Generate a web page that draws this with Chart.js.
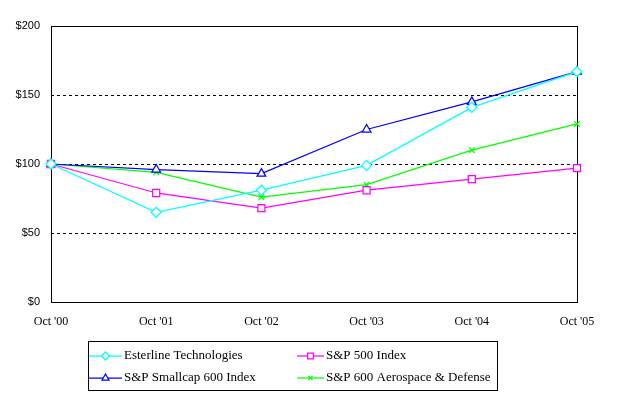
<!DOCTYPE html>
<html>
<head>
<meta charset="utf-8">
<script src="https://cdn.jsdelivr.net/npm/chart.js@4/dist/chart.umd.min.js"></script>
<style>
    html, body { margin: 0; padding: 0; background: #fff; }
    #chart { display: block; }
</style>
</head>
<body>
<canvas id="chart" width="619" height="398"></canvas>
<script>
const periods = ["Oct '00", "Oct '01", "Oct '02", "Oct '03", "Oct '04", "Oct '05"];
const esterline = [100, 65, 81, 99, 141, 167];
const sp500 = [100, 79, 68, 81, 89, 97];
const smallcap600 = [100, 96, 93, 125, 145, 167];
const aerospace600 = [100, 94, 76, 85, 110, 129];
const yTicks = [0, 50, 100, 150, 200];

const seriesNames = ['Esterline Technologies', 'S&P 500 Index', 'S&P Smallcap 600 Index', 'S&P 600 Aerospace & Defense'];

// frame round the plot area + boxed legend under it
const framePlugin = {
    id: 'frame',
    beforeDatasetsDraw(chart) {
        const { ctx, chartArea: a } = chart;
        ctx.save();
        ctx.strokeStyle = '#000';
        ctx.lineWidth = 1;
        ctx.strokeRect(Math.round(a.left) + 0.5, Math.round(a.top) + 0.5,
            Math.round(a.right - a.left), Math.round(a.bottom - a.top));
        ctx.restore();
    },
    afterDraw(chart) {
        const ctx = chart.ctx;
        ctx.save();
        ctx.strokeStyle = '#000';
        ctx.lineWidth = 1;
        ctx.strokeRect(88.5, 341.5, 409, 49);
        // legend order: Esterline, S&P 500 / Smallcap, Aerospace
        const slots = [
            { ds: 0, x0: 89, x1: 122, y: 356 },
            { ds: 1, x0: 297, x1: 324, y: 356 },
            { ds: 2, x0: 89, x1: 122, y: 378 },
            { ds: 3, x0: 297, x1: 324, y: 378 }
        ];
        slots.forEach(s => {
            const d = chart.data.datasets[s.ds];
            ctx.strokeStyle = d.borderColor;
            ctx.lineWidth = 1.25;
            ctx.beginPath();
            ctx.moveTo(s.x0, s.y);
            ctx.lineTo(s.x1, s.y);
            ctx.stroke();
            ctx.fillStyle = '#fff';
            Chart.helpers.drawPoint(ctx, {
                pointStyle: d.pointStyle,
                radius: d.pointRadius - 1,
                borderWidth: d.pointBorderWidth,
                rotation: 0
            }, (s.x0 + s.x1) / 2, s.y);
            ctx.fillStyle = '#000';
            ctx.font = '13px "Liberation Serif", "Times New Roman", serif';
            ctx.textBaseline = 'middle';
            ctx.textAlign = 'left';
            ctx.fillText(d.label, s.x1 + 2, s.y);
        });
        ctx.restore();
    }
};

const mkSeries = (label, data, color, style, radius) => ({
    label: label,
    data: data,
    borderColor: color,
    backgroundColor: '#fff',
    pointBorderColor: color,
    pointBackgroundColor: '#fff',
    borderWidth: 1.25,
    pointBorderWidth: 1.25,
    pointStyle: style,
    pointRadius: radius,
    tension: 0,
    clip: false
});

new Chart(document.getElementById('chart'), {
    type: 'line',
    data: {
        labels: periods,
        datasets: [
            mkSeries(seriesNames[0], esterline, '#00ffff', 'rectRot', 5),
            mkSeries(seriesNames[1], sp500, '#ff00ff', 'rect', 5),
            mkSeries(seriesNames[2], smallcap600, '#0000ff', 'triangle', 5),
            mkSeries(seriesNames[3], aerospace600, '#00ff00', 'crossRot', 4)
        ]
    },
    options: {
        responsive: false,
        animation: false,
        events: [],
        layout: { padding: { left: 0, top: 26, right: 42, bottom: 0 } },
        plugins: {
            legend: { display: false },
            tooltip: { enabled: false }
        },
        scales: {
            x: {
                offset: false,
                grid: { display: false, drawTicks: false },
                border: { display: false },
                ticks: {
                    color: '#000',
                    padding: 13,
                    maxRotation: 0,
                    font: { family: '"Liberation Serif", "Times New Roman", serif', size: 12 }
                },
                afterFit: s => { s.height = 96; }
            },
            y: {
                min: 0,
                max: 200,
                afterBuildTicks: s => { s.ticks = yTicks.map(v => ({ value: v })); },
                grid: {
                    drawTicks: false,
                    color: c => (c.tick.value === 0 || c.tick.value === 200) ? 'rgba(0,0,0,0)' : '#000',
                    lineWidth: 1
                },
                border: { display: false, dash: [3, 3] },
                ticks: {
                    color: '#000',
                    padding: 11,
                    font: { family: '"Liberation Sans", Arial, sans-serif', size: 11 },
                    callback: v => '$' + v
                },
                afterFit: s => { s.width = 51; }
            }
        }
    },
    plugins: [framePlugin]
});
</script>
</body>
</html>
